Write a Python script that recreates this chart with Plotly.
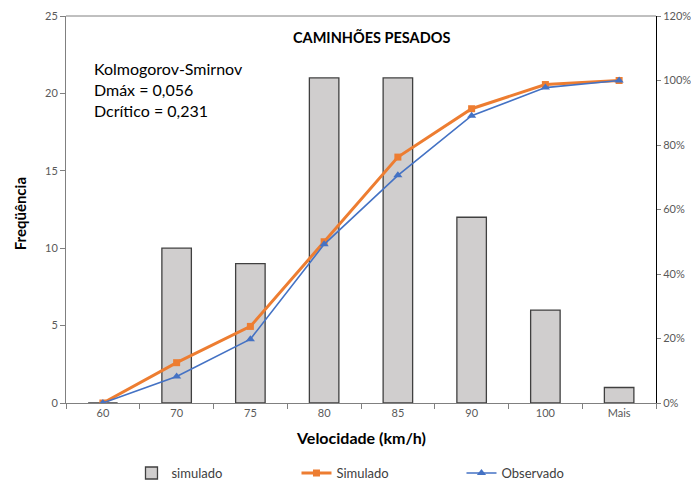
import plotly.graph_objects as go

categories = ["60", "70", "75", "80", "85", "90", "100", "Mais"]
freq_simulado = [0, 10, 9, 21, 21, 12, 6, 1]
cum_simulado = [0.0, 0.125, 0.2375, 0.50, 0.7625, 0.9125, 0.9875, 1.0]
cum_observado = [0.0, 0.082, 0.198, 0.492, 0.706, 0.891, 0.978, 1.0]

font_family = "Lato, 'Open Sans', sans-serif"
tick_color = "#595959"

fig = go.Figure()
fig.add_trace(go.Bar(
    x=categories, y=freq_simulado, name="simulado",
    marker=dict(color="#D0CECE", line=dict(color="#404040", width=1.3)),
    width=0.4, yaxis="y",
))
fig.add_trace(go.Scatter(
    x=categories, y=cum_simulado, name="Simulado", mode="lines+markers",
    line=dict(color="#ED7D31", width=3),
    marker=dict(symbol="square", size=7, color="#ED7D31"),
    yaxis="y2",
))
fig.add_trace(go.Scatter(
    x=categories, y=cum_observado, name="Observado", mode="lines+markers",
    line=dict(color="#4472C4", width=1.6),
    marker=dict(symbol="triangle-up", size=8, color="#4472C4"),
    yaxis="y2",
))

fig.update_layout(
    width=691, height=475,
    margin=dict(l=58, r=43, t=8, b=80, autoexpand=False),
    paper_bgcolor="white", plot_bgcolor="white",
    font=dict(family=font_family, size=11, color=tick_color),
    showlegend=True,
    legend=dict(orientation="h", x=0.111, y=-0.181, xanchor="left", yanchor="middle",
                entrywidth=120, font=dict(size=13, color="#404040"),
                traceorder="normal"),
    xaxis=dict(
        type="category", showline=True, linecolor="#808080", linewidth=1,
        ticks="outside", tickson="boundaries", ticklen=5, tickcolor="#808080",
        showgrid=False, mirror=False, automargin=False,
        tickfont=dict(size=11, color=tick_color),
    ),
    yaxis=dict(
        range=[0, 25], dtick=5, showline=True, linecolor="#808080", linewidth=1,
        ticks="outside", ticklen=5, tickcolor="#808080", showgrid=False, zeroline=False,
        automargin=False,
        tickfont=dict(size=11, color=tick_color),
    ),
    yaxis2=dict(
        range=[0, 1.2], dtick=0.2, tickformat=".0%", overlaying="y", side="right",
        showline=True, linecolor="black", linewidth=1, ticks="outside", ticklen=4,
        tickcolor="#808080", showgrid=False, zeroline=False, automargin=False,
        tickfont=dict(size=11, color=tick_color),
    ),
    shapes=[dict(type="line", xref="paper", yref="paper", x0=0, x1=1, y0=1, y1=1,
                 line=dict(color="#808080", width=1))],
    annotations=[
        dict(text="<b>CAMINHÕES PESADOS</b>", xref="paper", yref="paper",
             x=0.518, y=0.946, xanchor="center", yanchor="middle", showarrow=False,
             font=dict(size=14.5, color="black")),
        dict(text="Kolmogorov-Smirnov<br>Dmáx = 0,056<br>Dcrítico = 0,231",
             xref="paper", yref="paper", x=0.044, y=0.893, xanchor="left", yanchor="top",
             align="left", showarrow=False,
             font=dict(size=16, color="black")),
        dict(text="<b>Velocidade (km/h)</b>", xref="paper", yref="paper",
             x=0.5, y=-0.09, xanchor="center", yanchor="middle", showarrow=False,
             font=dict(size=16, color="black")),
        dict(text="<b>Freqüência</b>", xref="paper", yref="paper", textangle=-90,
             x=-0.078, y=0.49, xanchor="center", yanchor="middle", showarrow=False,
             font=dict(size=15, color="black")),
    ],
)

fig.write_html("out.html")
